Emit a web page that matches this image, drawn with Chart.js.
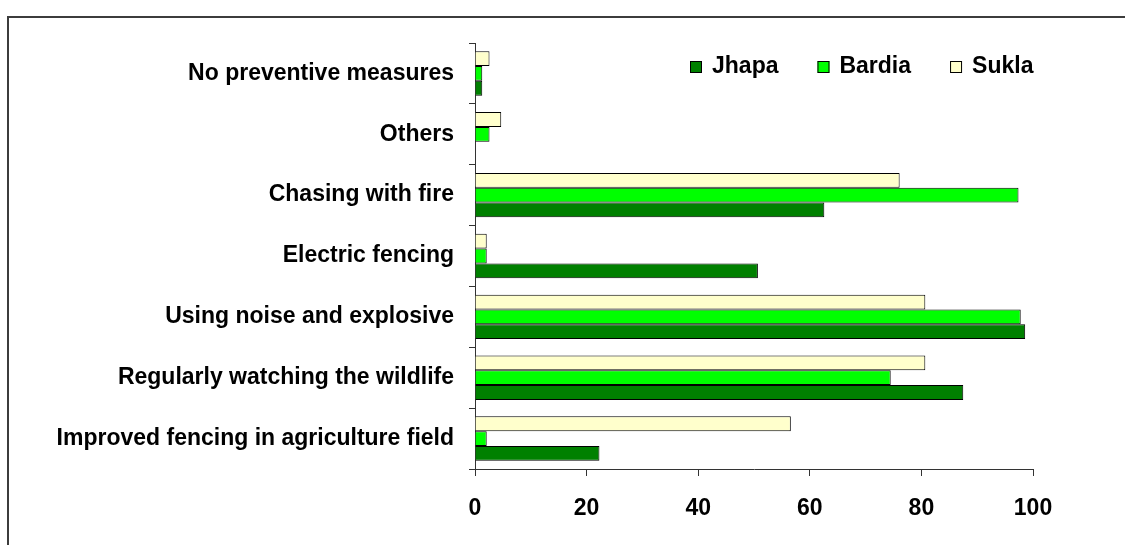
<!DOCTYPE html>
<html>
<head>
<meta charset="utf-8">
<script src="https://cdn.jsdelivr.net/npm/chart.js@4.4.0/dist/chart.umd.min.js"></script>
<style>
    body { margin: 0; background: #fff; }
    .wrap { position: relative; width: 1125px; height: 545px; overflow: hidden; }
    .frame {
        position: absolute; left: 7px; top: 16px; width: 1200px; height: 600px;
        border-left: 2px solid #3c3c3c; border-top: 2px solid #3c3c3c;
    }
    #myChart { position: absolute; left: 0; top: 0; }
</style>
</head>
<body>
<div class="wrap">
    <div class="frame"></div>
    <canvas id="myChart" width="1125" height="545"></canvas>
</div>
<script>
// DADOS

const categories = [
    'No preventive measures',
    'Others',
    'Chasing with fire',
    'Electric fencing',
    'Using noise and explosive',
    'Regularly watching the wildlife',
    'Improved fencing in agriculture field'
];
const jhapa = [1.3, null, 62.6, 50.7, 98.6, 87.5, 22.3];
const bardia = [1.3, 2.6, 97.4, 2.1, 97.8, 74.5, 2.1];
const sukla = [2.6, 4.7, 76.1, 2.1, 80.7, 80.7, 56.6];
const xTicks = [0, 20, 40, 60, 80, 100];

const fontFamily = '"Liberation Sans", Arial, sans-serif';

// LEGENDA DENTRO DO GRÁFICO (Jhapa, Bardia, Sukla)
const insideLegend = {
    id: 'insideLegend',
    afterDraw(chart) {
        const c = chart.ctx;
        const sets = chart.data.datasets.slice().reverse();
        let x = 690;
        const y = 67;
        c.save();
        c.font = 'bold 23px ' + fontFamily;
        c.textBaseline = 'middle';
        c.fillStyle = '#000';
        sets.forEach(ds => {
            c.fillStyle = ds.backgroundColor;
            c.fillRect(x, y - 6, 12, 12);
            c.strokeStyle = '#000';
            c.lineWidth = 1;
            c.strokeRect(x + 0.5, y - 5.5, 11, 11);
            c.fillStyle = '#000';
            c.fillText(ds.label, x + 22, y);
            x += 22 + c.measureText(ds.label).width + 39;
        });
        c.restore();
    }
};

// GRÁFICO

const ctx = document.getElementById('myChart').getContext('2d');
const myChart = new Chart(ctx, {
    type: 'bar',
    data: {
        labels: categories,
        datasets: [
        {
            data: sukla,
            backgroundColor: '#ffffcc',
            borderColor: '#000',
            borderWidth: 1,
            label: 'Sukla'
        },
        {
            data: bardia,
            backgroundColor: '#00ff00',
            borderColor: '#000',
            borderWidth: 1,
            label: 'Bardia'
        },
        {
            data: jhapa,
            backgroundColor: '#008000',
            borderColor: '#000',
            borderWidth: 1,
            label: 'Jhapa'
        }
        ]
    },
    options: {
        indexAxis: 'y',
        responsive: false,
        animation: false,
        categoryPercentage: 0.73,
        barPercentage: 1,
        layout: {
            padding: { top: 43, right: 92, bottom: 0, left: 0 }
        },
        scales: {
            x: {
                min: 0,
                max: 100,
                afterFit: (scale) => { scale.height = 76; },
                afterBuildTicks: (scale) => { scale.ticks = xTicks.map(v => ({ value: v })); },
                grid: { drawOnChartArea: false, tickLength: 7, color: '#333' },
                border: { color: '#333', width: 1 },
                ticks: {
                    color: '#000',
                    padding: 19,
                    font: { family: fontFamily, size: 23, weight: 'bold' }
                }
            },
            y: {
                afterFit: (scale) => { scale.width = 475; },
                grid: { drawOnChartArea: false, tickLength: 6, color: '#333', offset: true },
                border: { color: '#333', width: 1 },
                ticks: {
                    color: '#000',
                    padding: 15,
                    font: { family: fontFamily, size: 23, weight: 'bold' }
                }
            }
        },
        plugins: {
            legend: { display: false },
            tooltip: { enabled: false }
        }
    },
    plugins: [insideLegend]
});
</script>
</body>
</html>
